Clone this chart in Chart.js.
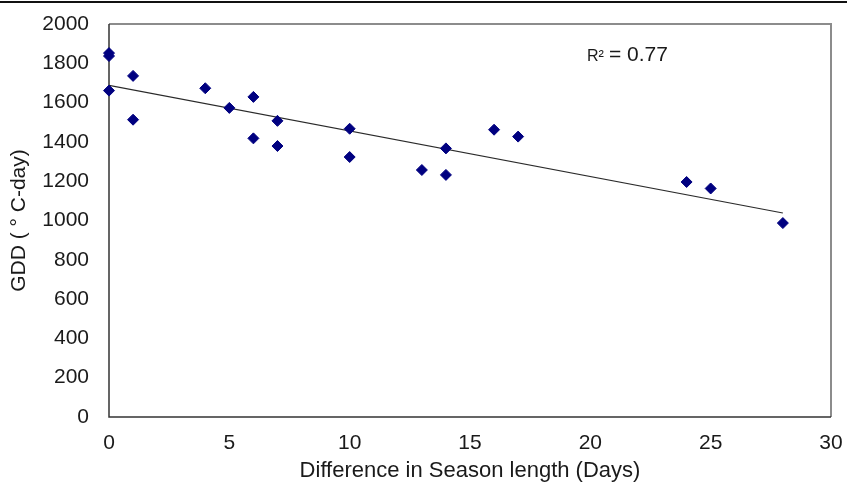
<!DOCTYPE html>
<html>
<head>
<meta charset="utf-8">
<script src="https://cdn.jsdelivr.net/npm/chart.js@4.4.1/dist/chart.umd.min.js"></script>
<style>
  html, body { margin: 0; padding: 0; background: #fff; }
  #wrap { width: 847px; height: 487px; position: relative; }
</style>
</head>
<body>
<div id="wrap"><canvas id="gdd-chart" width="847" height="487"></canvas></div>
<script>
// valores
const seasonDiff = [0, 0, 0, 1, 1, 4, 5, 6, 6, 7, 7, 10, 10, 13, 14, 14, 16, 17, 24, 25, 28];
const gddValues = [1852, 1837, 1661, 1736, 1513, 1673, 1573, 1629, 1418, 1507, 1379, 1467, 1323, 1257, 1367, 1232, 1462, 1427, 1196, 1163, 987];

// linea de tendencia (extremos)
const trendX = [0, 28];
const trendY = [1688, 1038];

const xTicks = [0, 5, 10, 15, 20, 25, 30];
const yTicks = [0, 200, 400, 600, 800, 1000, 1200, 1400, 1600, 1800, 2000];

const rSquared = "0.77";

const textColor = '#1a1a1a';
const fontFamily = '"Liberation Sans", Arial, sans-serif';

const puntos = seasonDiff.map((x, i) => ({ x: x, y: gddValues[i] }));
const tendencia = trendX.map((x, i) => ({ x: x, y: trendY[i] }));

// marco del area, linea superior y texto R²
const marcoPlugin = {
    id: 'marco',
    beforeDatasetsDraw(chart) {
        const { ctx, chartArea: a } = chart;
        ctx.save();
        // linea negra arriba
        ctx.strokeStyle = '#111';
        ctx.lineWidth = 2;
        ctx.beginPath();
        ctx.moveTo(0, 2);
        ctx.lineTo(847, 2);
        ctx.stroke();
        // borde gris arriba y derecha
        ctx.strokeStyle = '#8c8c8c';
        ctx.lineWidth = 2;
        ctx.beginPath();
        ctx.moveTo(a.left, a.top);
        ctx.lineTo(a.right, a.top);
        ctx.lineTo(a.right, a.bottom);
        ctx.stroke();
        // ejes
        ctx.strokeStyle = '#333';
        ctx.lineWidth = 1.5;
        ctx.beginPath();
        ctx.moveTo(a.left, a.top);
        ctx.lineTo(a.left, a.bottom);
        ctx.lineTo(a.right, a.bottom);
        ctx.stroke();
        ctx.restore();
    },
    afterDraw(chart) {
        const { ctx } = chart;
        ctx.save();
        ctx.fillStyle = textColor;
        ctx.textBaseline = 'alphabetic';
        ctx.font = '16px ' + fontFamily;
        ctx.fillText('R²', 587, 61);
        ctx.font = '21px ' + fontFamily;
        ctx.fillText('= ' + rSquared, 609, 61);
        ctx.restore();
    }
};

const ctx = document.getElementById('gdd-chart').getContext('2d');
new Chart(ctx, {
    type: 'scatter',
    data: {
        datasets: [{
            label: 'GDD',
            data: puntos,
            pointStyle: 'rectRot',
            pointRadius: 5.5,
            pointBackgroundColor: '#000080',
            pointBorderColor: '#000080',
            pointBorderWidth: 1,
            clip: false,
            order: 1
        }, {
            type: 'line',
            label: 'Tendencia',
            data: tendencia,
            borderColor: '#2a2a2a',
            borderWidth: 1.2,
            pointRadius: 0,
            fill: false,
            order: 2
        }]
    },
    options: {
        responsive: false,
        animation: false,
        devicePixelRatio: 1,
        layout: { padding: { top: 24, right: 16, left: 0, bottom: 0 } },
        plugins: {
            legend: { display: false },
            tooltip: { enabled: false }
        },
        scales: {
            x: {
                type: 'linear',
                min: 0,
                max: 30,
                afterBuildTicks: s => { s.ticks = xTicks.map(v => ({ value: v })); },
                afterFit: s => {
                    s.height = 70;
                    s.paddingLeft = 0;
                    s.paddingRight = 0;
                },
                grid: { display: false, drawTicks: false },
                border: { display: false },
                ticks: {
                    padding: 14,
                    color: textColor,
                    font: { family: fontFamily, size: 21 },
                    maxRotation: 0,
                    callback: v => String(v)
                },
                title: {
                    display: true,
                    text: 'Difference in Season length (Days)',
                    color: textColor,
                    font: { family: fontFamily, size: 22 },
                    padding: { top: 0, bottom: 3 }
                }
            },
            y: {
                type: 'linear',
                min: 0,
                max: 2000,
                afterBuildTicks: s => { s.ticks = yTicks.map(v => ({ value: v })); },
                afterFit: s => {
                    s.width = 109;
                    s.paddingTop = 0;
                    s.paddingBottom = 0;
                },
                grid: { display: false, drawTicks: false },
                border: { display: false },
                ticks: {
                    padding: 20,
                    color: textColor,
                    font: { family: fontFamily, size: 21 },
                    callback: v => String(v)
                },
                title: {
                    display: true,
                    text: 'GDD ( ° C-day)',
                    color: textColor,
                    font: { family: fontFamily, size: 21 },
                    padding: { top: 7, bottom: 0 }
                }
            }
        }
    },
    plugins: [marcoPlugin]
});
</script>
</body>
</html>
